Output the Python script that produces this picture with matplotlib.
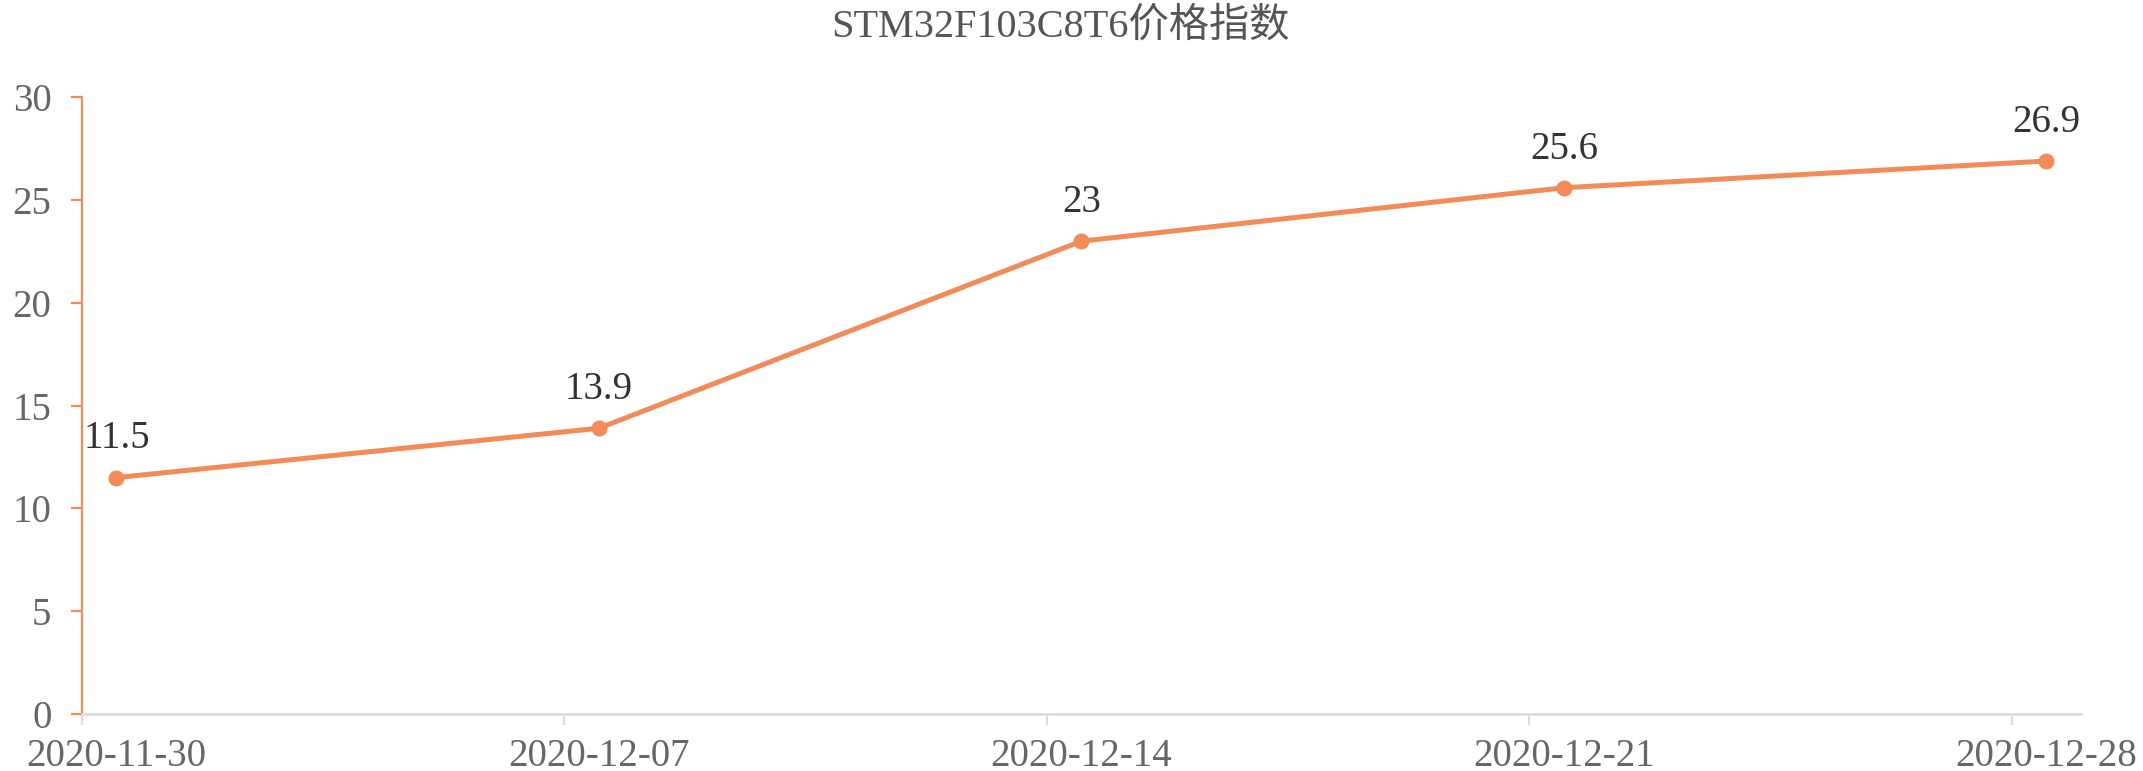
import matplotlib
matplotlib.use("Agg")
import matplotlib.pyplot as plt
import pandas as pd

title = "STM32F103C8T6价格指数"
dates = ["2020-11-30", "2020-12-07", "2020-12-14", "2020-12-21", "2020-12-28"]
values = [11.5, 13.9, 23, 25.6, 26.9]
value_labels = ["11.5", "13.9", "23", "25.6", "26.9"]
yticks = [0, 5, 10, 15, 20, 25, 30]

plt.rcParams['font.family'] = ['Liberation Serif', 'Noto Sans CJK SC', 'DejaVu Sans']

W, H, DPI = 2143, 771, 100
fig = plt.figure(figsize=(W / DPI, H / DPI), dpi=DPI)
left, right, bottom, top = 82 / W, 2080.7 / W, (H - 714) / H, (H - 97.3) / H
ax = fig.add_axes([left, bottom, right - left, top - bottom])

orange = "#F28B58"
d = pd.to_datetime(dates)
xpts = d + pd.Timedelta(hours=12)

ax.plot(xpts, values, color=orange, lw=3.6, marker="o", ms=10.5, zorder=3,
        solid_capstyle="round")
for x, v, lab in zip(xpts, values, value_labels):
    ax.annotate(lab, (x, v), xytext=(0, 21), textcoords="offset points",
                ha="center", va="baseline", fontsize=28, color="#333333")

ax.set_xlim(d[0], d[-1] + pd.Timedelta(days=1))
ax.set_ylim(0, 30)
ax.set_yticks(yticks)
ax.set_yticklabels([str(t) for t in yticks])

ax.set_xticks(list(d))
ax.set_xticklabels([""] * len(d))
ax.set_xticks(list(xpts), minor=True)
ax.set_xticklabels(dates, minor=True)

for s in ["top", "right"]:
    ax.spines[s].set_visible(False)
ax.spines["left"].set_color(orange)
ax.spines["left"].set_linewidth(1.6)
ax.spines["left"].set_zorder(2)
ax.spines["bottom"].set_color("#DDDDDD")
ax.spines["bottom"].set_linewidth(2)

ax.tick_params(axis="y", length=8, width=1.6, color=orange, labelsize=28,
               labelcolor="#666666", pad=14, direction="out")
ax.tick_params(axis="x", which="major", length=8, width=1.6, color="#DDDDDD")
ax.tick_params(axis="x", which="minor", length=0, labelsize=28,
               labelcolor="#666666", pad=17)

fig.text(1061 / W, 1 - 27 / H, title, ha="center", va="center",
         fontsize=29, color="#555555")

fig.savefig("out.png", dpi=DPI)
